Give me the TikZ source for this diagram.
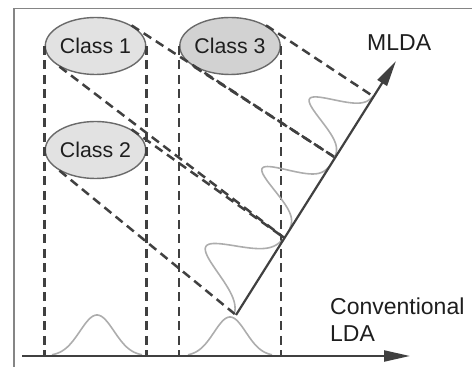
\documentclass[tikz,border=0pt]{standalone}
\usepackage{fontspec}
\setmainfont{Liberation Sans}
\usetikzlibrary{shapes.geometric,arrows.meta,calc}

\definecolor{linea}{HTML}{404040}
\definecolor{bordo}{HTML}{6A6A6A}
\definecolor{chiaro}{HTML}{E2E2E2}
\definecolor{scuro}{HTML}{D2D2D2}
\definecolor{curva}{HTML}{ADADAD}
\definecolor{cornice}{HTML}{858585}
\definecolor{testo}{HTML}{1E1E1E}

\begin{document}
\begin{tikzpicture}[x=1pt, y=1pt,
    classe/.style={ellipse, draw=bordo, line width=1.4pt, fill=chiaro,
      minimum width=95pt, minimum height=57pt, inner sep=0pt,
      font=\fontsize{21.3}{25}\selectfont, text=testo},
    proj/.style={dash pattern=on 9pt off 5.5pt, line width=2.5pt, draw=linea},
    asse/.style={line width=2.2pt, draw=linea, -{Triangle[length=26pt, width=11pt]}},
    gauss/.style={line width=1.6pt, draw=curva},
    etich/.style={font=\fontsize{23}{27}\selectfont, text=testo, inner sep=0pt}]

    \useasboundingbox (0,0) rectangle (472,367);

    % Cornice
    \draw[line width=1.6pt, draw=cornice] (14,0) -- (14,358.5) -- (472,358.5);

    % Classi
    \node[classe] (c1) at (95.5,321) {Class 1};
    \node[classe] (c2) at (95.5,217) {Class 2};
    \node[classe, fill=scuro] (c3) at (230,321) {Class 3};

    % Assi
    \coordinate (l0) at (22,11);
    \coordinate (l1) at (410,11);
    \coordinate (o) at (236,52);
    \coordinate (t) at (396,306);
    \coordinate (p1) at ($(o)!0.303!(t)$);
    \coordinate (p2) at ($(o)!0.62!(t)$);
    \coordinate (p3) at ($(o)!0.86!(t)$);

    % Proiezioni verticali (LDA)
    \draw[proj] (c1.west) -- (c1.west |- l0);
    \draw[proj] (c1.east) -- (c1.east |- l0);
    \draw[proj] (c3.west) -- (c3.west |- l0);
    \draw[proj] (c3.east) -- (c3.east |- l0);

    % Proiezioni oblique (MLDA)
    \draw[proj] (c3.north east) -- (p3);
    \draw[proj] (c3.south west) -- (p2);
    \draw[proj] (c1.north east) -- (p2);
    \draw[proj] (c1.south west) -- (p1);
    \draw[proj] (c2.north east) -- (p1);
    \draw[proj] (c2.south west) -- (o);

    % Distribuzioni
    \draw[gauss] plot[domain=-45:45, samples=60] ({97+\x}, {11+41*exp(-\x*\x/578)});
    \draw[gauss] plot[domain=-42:42, samples=60] ({230+\x}, {11+39*exp(-\x*\x/512)});
    \coordinate (g2) at ($(o)!0.14!(t)$);
    \coordinate (g1) at ($(o)!0.46!(t)$);
    \coordinate (g3) at ($(o)!0.74!(t)$);
    \draw[gauss, shift={(g2)}, rotate=57.8] plot[domain=-40:45, samples=60] (\x, {62*exp(-\x*\x/512)});
    \draw[gauss, shift={(g1)}, rotate=57.8] plot[domain=-36:36, samples=60] (\x, {56*exp(-\x*\x/288)});
    \draw[gauss, shift={(g3)}, rotate=57.8] plot[domain=-36:36, samples=60] (\x, {53*exp(-\x*\x/288)});

    \draw[asse] (l0) -- (l1);
    \draw[asse] (o) -- (t);

    % Etichette
    \node[etich, anchor=base west] (mlda) at (367,316) {MLDA};
    \node[etich, anchor=base west, align=left] (lda) at (330,25) {Conventional\\LDA};
\end{tikzpicture}
\end{document}
